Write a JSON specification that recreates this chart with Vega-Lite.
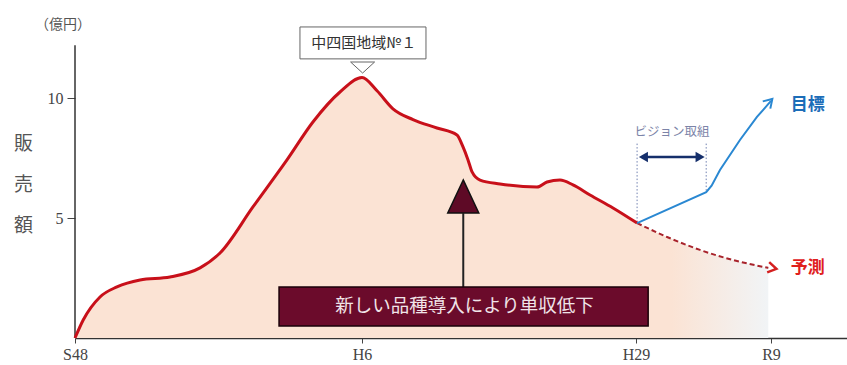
{
  "$schema": "https://vega.github.io/schema/vega-lite/v6.json",
  "width": 772,
  "height": 328,
  "autosize": "none",
  "padding": {"left": 75, "top": 10, "right": 0, "bottom": 27},
  "background": "white",
  "config": {"view": {"stroke": null}},
  "datasets": {
    "sales": [
      {"x": 1973.0, "y": 0, "series": "actual"},
      {"x": 1973.6, "y": 0.75, "series": "actual"},
      {"x": 1974.83, "y": 1.71, "series": "actual"},
      {"x": 1976.07, "y": 2.13, "series": "actual"},
      {"x": 1977.76, "y": 2.42, "series": "actual"},
      {"x": 1979.95, "y": 2.54, "series": "actual"},
      {"x": 1982.15, "y": 2.92, "series": "actual"},
      {"x": 1983.61, "y": 3.54, "series": "actual"},
      {"x": 1986.02, "y": 5.46, "series": "actual"},
      {"x": 1988.51, "y": 7.42, "series": "actual"},
      {"x": 1990.41, "y": 9.0, "series": "actual"},
      {"x": 1992.39, "y": 10.25, "series": "actual"},
      {"x": 1994.0, "y": 10.85, "series": "actual"},
      {"x": 1995.26, "y": 10.3, "series": "actual"},
      {"x": 1996.6, "y": 9.55, "series": "actual"},
      {"x": 1998.28, "y": 9.1, "series": "actual"},
      {"x": 2000.29, "y": 8.75, "series": "actual"},
      {"x": 2001.97, "y": 8.46, "series": "actual"},
      {"x": 2002.48, "y": 7.96, "series": "actual"},
      {"x": 2002.9, "y": 7.42, "series": "actual"},
      {"x": 2003.24, "y": 6.92, "series": "actual"},
      {"x": 2003.91, "y": 6.58, "series": "actual"},
      {"x": 2005.59, "y": 6.42, "series": "actual"},
      {"x": 2008.69, "y": 6.29, "series": "actual"},
      {"x": 2009.53, "y": 6.5, "series": "actual"},
      {"x": 2010.62, "y": 6.58, "series": "actual"},
      {"x": 2011.71, "y": 6.38, "series": "actual"},
      {"x": 2013.14, "y": 5.96, "series": "actual"},
      {"x": 2015.07, "y": 5.42, "series": "actual"},
      {"x": 2017.08, "y": 4.79, "series": "actual"},
      {"x": 2019.3, "y": 4.21, "series": "forecast"},
      {"x": 2021.74, "y": 3.67, "series": "forecast"},
      {"x": 2024.19, "y": 3.25, "series": "forecast"},
      {"x": 2026.8, "y": 2.92, "series": "forecast"},
      {"x": 2017.08, "y": 4.79, "series": "target"},
      {"x": 2022.2, "y": 6.08, "series": "target"},
      {"x": 2022.6, "y": 6.35, "series": "target"},
      {"x": 2023.22, "y": 7.0, "series": "target"},
      {"x": 2024.7, "y": 8.25, "series": "target"},
      {"x": 2025.96, "y": 9.21, "series": "target"},
      {"x": 2027.0, "y": 9.88, "series": "target"}
    ],
    "forecastLine": [
      {"x": 2017.08, "y": 4.79},
      {"x": 2019.3, "y": 4.21},
      {"x": 2021.74, "y": 3.67},
      {"x": 2024.19, "y": 3.25},
      {"x": 2026.8, "y": 2.92}
    ]
  },
  "encoding": {
    "x": {
      "field": "x",
      "type": "quantitative",
      "scale": {"type": "linear", "domain": [1973, 1994, 2017, 2027, 2032.6], "range": [0, 287, 561, 696, 772], "nice": false, "zero": false},
      "axis": {
        "title": null,
        "values": [1973, 1994, 2017, 2027],
        "labelExpr": "datum.value == 1973 ? 'S48' : datum.value == 1994 ? 'H6' : datum.value == 2017 ? 'H29' : 'R9'",
        "labelFont": "Liberation Serif",
        "labelFontSize": 16,
        "labelColor": "#444",
        "labelPadding": 3,
        "labelFlush": false,
        "tickSize": 5,
        "tickColor": "#444",
        "domainColor": "#333",
        "domainWidth": 1.5,
        "grid": false
      }
    },
    "y": {
      "field": "y",
      "type": "quantitative",
      "scale": {"domain": [0, 13.667], "nice": false, "zero": true},
      "axis": {
        "title": ["販", "売", "額"],
        "titleAngle": 0,
        "titleX": -52,
        "titleY": 124,
        "titleBaseline": "top",
        "titleAlign": "center",
        "titleLineHeight": 41,
        "titleFont": "Noto Sans CJK JP",
        "titleFontSize": 19,
        "titleFontWeight": "normal",
        "titleColor": "#555",
        "values": [5, 10],
        "domain": false,
        "grid": false,
        "tickSize": 8,
        "tickColor": "#444",
        "labelPadding": 4,
        "labelFont": "Liberation Serif",
        "labelFontSize": 16,
        "labelColor": "#444"
      }
    }
  },
  "layer": [
    {
      "data": {"name": "sales"},
      "transform": [{"filter": "datum.series != 'target'"}],
      "mark": {
        "type": "area",
        "interpolate": "monotone",
        "color": {
          "gradient": "linear",
          "x1": 0, "y1": 0, "x2": 1, "y2": 0,
          "stops": [
            {"offset": 0, "color": "#fbe3d4"},
            {"offset": 0.86, "color": "#fbe3d4"},
            {"offset": 1, "color": "#f1f4f6"}
          ]
        }
      }
    },
    {
      "data": {"values": [{"x": 1973, "y": 0, "y2": 12.2}]},
      "mark": {"type": "rule", "color": "#333", "strokeWidth": 1.5},
      "encoding": {"y2": {"field": "y2"}}
    },
    {
      "data": {"values": [{"x": 2017.08, "y": 8.1, "y2": 4.79}, {"x": 2022.2, "y": 8.1, "y2": 6.08}]},
      "mark": {"type": "rule", "color": "#7080b0", "strokeWidth": 1, "strokeDash": [1.5, 2]},
      "encoding": {"y2": {"field": "y2"}}
    },
    {
      "data": {"values": [{"x": 2017.5, "x2": 2021.8, "y": 7.54}]},
      "mark": {"type": "rule", "color": "#152f6b", "strokeWidth": 2.5},
      "encoding": {"x2": {"field": "x2"}}
    },
    {
      "data": {"values": [{"x": 2017.55, "y": 7.54}]},
      "mark": {"type": "point", "shape": "triangle-left", "filled": true, "color": "#152f6b", "opacity": 1, "size": 110}
    },
    {
      "data": {"values": [{"x": 2021.75, "y": 7.54}]},
      "mark": {"type": "point", "shape": "triangle-right", "filled": true, "color": "#152f6b", "opacity": 1, "size": 110}
    },
    {
      "data": {"values": [{"x": 2002.5, "y": 5.2, "y2": 2.125}]},
      "mark": {"type": "rule", "color": "#222", "strokeWidth": 2},
      "encoding": {"y2": {"field": "y2"}}
    },
    {
      "data": {"values": [{"x": 2002.5, "y": 5.9}]},
      "mark": {"type": "point", "shape": "M0,-1L0.94,1L-0.94,1Z", "filled": true, "fill": "#5e0a26", "stroke": "#111", "strokeWidth": 1.5, "opacity": 1, "size": 1089}
    },
    {
      "data": {"values": [{"x": 1987.93, "x2": 2017.9, "y": 2.125, "y2": 0.5}]},
      "mark": {"type": "rect", "fill": "#6b0b2b", "stroke": "#1a0008", "strokeWidth": 1.5},
      "encoding": {"x2": {"field": "x2"}, "y2": {"field": "y2"}}
    },
    {
      "data": {"values": [{"x": 2002.6, "y": 1.33, "text": "新しい品種導入により単収低下"}]},
      "mark": {"type": "text", "font": "Noto Sans CJK JP", "fontSize": 18.5, "color": "#f1e4e8", "align": "center", "baseline": "middle"},
      "encoding": {"text": {"field": "text"}}
    },
    {
      "data": {"values": [{"x": 1989.46, "x2": 1999.37, "y": 12.96, "y2": 11.63}]},
      "mark": {"type": "rect", "fill": "white", "stroke": "#666", "strokeWidth": 1},
      "encoding": {"x2": {"field": "x2"}, "y2": {"field": "y2"}}
    },
    {
      "data": {"values": [{"x": 1994.15, "y": 12.29, "text": "中四国地域№１"}]},
      "mark": {"type": "text", "font": "Noto Sans CJK JP", "fontSize": 15, "color": "#333", "align": "center", "baseline": "middle"},
      "encoding": {"text": {"field": "text"}}
    },
    {
      "data": {"values": [{"x": 1994.05, "y": 11.27}]},
      "mark": {"type": "point", "shape": "M-1,-0.46L1,-0.46L0,0.46Z", "filled": true, "fill": "white", "stroke": "#666", "strokeWidth": 1, "opacity": 1, "size": 576}
    },
    {
      "data": {"name": "sales"},
      "transform": [{"filter": "datum.series == 'actual'"}],
      "mark": {"type": "line", "interpolate": "monotone", "color": "#c8101a", "strokeWidth": 3}
    },
    {
      "data": {"name": "forecastLine"},
      "mark": {"type": "line", "interpolate": "monotone", "color": "#a8232b", "strokeWidth": 2, "strokeDash": [5, 3]}
    },
    {
      "data": {"name": "sales"},
      "transform": [{"filter": "datum.series == 'target'"}],
      "mark": {"type": "line", "interpolate": "linear", "color": "#2a88d2", "strokeWidth": 2}
    },
    {
      "data": {"values": [{"x": 2027.1, "y": 9.96}]},
      "mark": {"type": "point", "shape": "M-1.6,-1L0,0L-1.6,1", "filled": false, "stroke": "#2a88d2", "strokeWidth": 2, "opacity": 1, "size": 110, "angle": 314}
    },
    {
      "data": {"values": [{"x": 2027.4, "y": 2.88}]},
      "mark": {"type": "point", "shape": "M-1.6,-1L0,0L-1.6,1", "filled": false, "stroke": "#d42020", "strokeWidth": 2.5, "opacity": 1, "size": 110, "angle": 11}
    },
    {
      "data": {"values": [{"x": 2019.67, "y": 8.58, "text": "ビジョン取組"}]},
      "mark": {"type": "text", "font": "Noto Sans CJK JP", "fontSize": 12.5, "color": "#7c84a8", "align": "center", "baseline": "middle"},
      "encoding": {"text": {"field": "text"}}
    },
    {
      "data": {"values": [{"x": 2029.7, "y": 9.71, "text": "目標"}]},
      "mark": {"type": "text", "font": "Noto Sans CJK JP", "fontSize": 17, "fontWeight": "bold", "color": "#1c6db8", "align": "center", "baseline": "middle"},
      "encoding": {"text": {"field": "text"}}
    },
    {
      "data": {"values": [{"x": 2029.7, "y": 2.92, "text": "予測"}]},
      "mark": {"type": "text", "font": "Noto Sans CJK JP", "fontSize": 17, "fontWeight": "bold", "color": "#e0201c", "align": "center", "baseline": "middle"},
      "encoding": {"text": {"field": "text"}}
    },
    {
      "data": {"values": [{"x": 1973, "y": 13.05, "text": "（億円）"}]},
      "mark": {"type": "text", "font": "Noto Sans CJK JP", "fontSize": 14, "color": "#555", "align": "center", "baseline": "middle", "dx": -12},
      "encoding": {"text": {"field": "text"}}
    }
  ]
}
